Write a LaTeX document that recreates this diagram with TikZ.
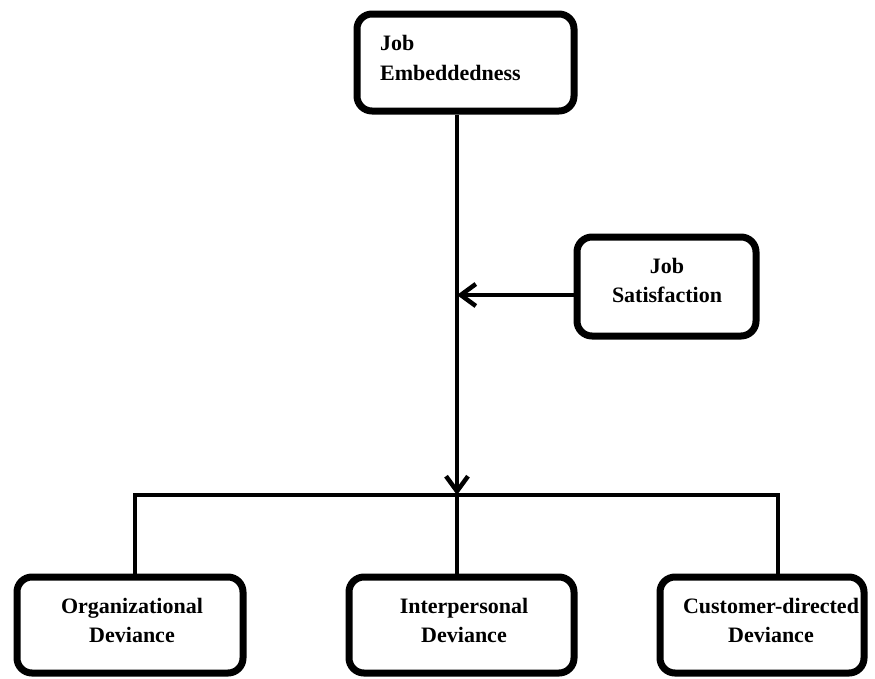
\documentclass[tikz,border=0pt]{standalone}
\usepackage{fontspec}
\setmainfont{Liberation Serif}
\usetikzlibrary{arrows.meta}
\tikzset{
  box/.style={draw, line width=7pt, rounded corners=15pt, inner sep=0pt},
  lbl/.style={font=\fontsize{22}{29}\selectfont\bfseries, inner sep=0pt, anchor=base},
  lblw/.style={lbl, anchor=base west},
  conn/.style={line width=4.5pt},
  arr/.style={conn, -{Straight Barb[length=15pt, width=22pt]}}
}
\begin{document}
\begin{tikzpicture}[x=1pt,y=-1pt]
\useasboundingbox (0,0) rectangle (875,678);
% boxes
\node[box, minimum width=217pt, minimum height=97pt] (top) at (465.5,62.5) {};
\node[box, minimum width=179pt, minimum height=99pt] (sat) at (666.5,286.5) {};
\node[box, minimum width=226pt, minimum height=96pt] (org) at (130,625) {};
\node[box, minimum width=225pt, minimum height=96pt] (inter) at (461.5,625) {};
\node[box, minimum width=204pt, minimum height=96pt] (cust) at (762,625) {};
% labels
\node[lblw] (t1) at (380,50) {Job};
\node[lblw] (t2) at (380,80) {Embeddedness};
\node[lbl] (s1) at (667,273) {Job};
\node[lbl] (s2) at (667,302) {Satisfaction};
\node[lbl] (o1) at (132,613) {Organizational};
\node[lbl] (o2) at (132,642) {Deviance};
\node[lbl] (i1) at (464,613) {Interpersonal};
\node[lbl] (i2) at (464,642) {Deviance};
\node[lbl] (c1) at (771,613) {Customer-directed};
\node[lbl] (c2) at (771,642) {Deviance};
% connector points
\coordinate (j) at (457,495);
\coordinate (k) at (457,295);
\coordinate (l) at (135,495);
\coordinate (r) at (778,495);
% connectors
\draw[conn] (l |- org.north) -- (l) -- (r) -- (r |- cust.north);
\draw[conn, line width=4pt] (j) -- (j |- inter.north);
\draw[arr] (top.south -| j) -- (j);
\draw[arr] (k -| sat.west) -- (k);
\end{tikzpicture}
\end{document}
